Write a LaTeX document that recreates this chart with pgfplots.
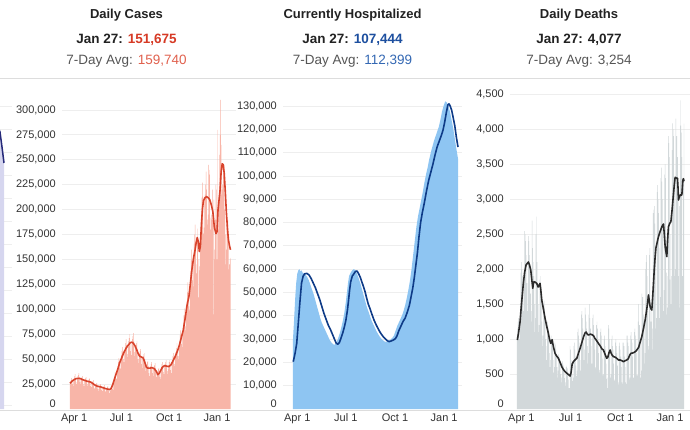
\documentclass[border=0pt]{standalone}
\usepackage{fontspec}
\setmainfont{Liberation Sans}
\usepackage{pgfplots}
\pgfplotsset{compat=1.18}
\definecolor{casebar}{HTML}{F8B5A8}
\definecolor{caseline}{HTML}{D8432C}
\definecolor{casenum}{HTML}{D63A25}
\definecolor{caseavg}{HTML}{E0604D}
\definecolor{hosparea}{HTML}{8EC5F2}
\definecolor{hospline}{HTML}{0E3B87}
\definecolor{hospnum}{HTML}{1D4F9F}
\definecolor{hospavg}{HTML}{3468B3}
\definecolor{deathbar}{HTML}{D2D8DA}
\definecolor{deathline}{HTML}{2B2B2B}
\definecolor{gridcol}{HTML}{EEEEEE}
\definecolor{tickcol}{HTML}{333333}
\definecolor{avgtext}{HTML}{555555}
\definecolor{titletext}{HTML}{222222}
\definecolor{lav}{HTML}{D6D6EF}
\definecolor{lavline}{HTML}{262A7A}
\definecolor{sepline}{HTML}{DDDDDD}
\pgfplotsset{
  panel/.style={
    scale only axis, height=317pt, ymin=0,
    axis line style={draw=none}, major tick length=0pt, tick style={draw=none},
    ymajorgrids, major grid style={gridcol, line width=0.8pt},
    xtick={0,91,183,275}, xticklabels={Apr 1,Jul 1,Oct 1,Jan 1},
    ticklabel style={font=\fontsize{11}{13}\selectfont, text=tickcol},
    yticklabel style={anchor=east, inner sep=0pt, xshift=-6pt},
    xticklabel style={anchor=north, inner sep=0pt, yshift=-4.5pt},
    /pgf/number format/assume math mode=true,
    extra y ticks={0}, extra y tick labels={0},
    extra y tick style={grid=none, yticklabel style={yshift=5pt}},
  }
}
\begin{document}
\begin{tikzpicture}
\path[use as bounding box] (0,0) rectangle (690pt,-430pt);

% partial panel at the left edge
\begin{axis}[panel, at={(-40pt,-409pt)}, anchor=south west, width=52pt,
  xmin=0, xmax=52, ymax=317, ytick={4,27,...,316}, yticklabels={},
  xtick=\empty, extra y ticks={}, extra y tick labels={}]
\addplot[fill=lav, draw=none] coordinates {(0,300) (30,292) (36,282) (40,272) (42,262) (44,248)} \closedcycle;
\addplot[lavline, line width=1.5pt] coordinates {(28,305) (34,292) (40,277) (42,262) (44,246)};
\end{axis}

% Daily cases (thousands)
\begin{axis}[panel, at={(62pt,-409pt)}, anchor=south west, width=174pt,
  xmin=-23.4, xmax=311.6, ymax=318,
  ytick={25,50,...,300},
  yticklabels={{25,000},{50,000},{75,000},{100,000},{125,000},{150,000},{175,000},{200,000},{225,000},{250,000},{275,000},{300,000}}]
\addplot[ybar, bar width=0.85, fill=casebar, draw=none] table[row sep=\\, x expr=\coordindex-8, y=v] {v\\
25\\ 27\\ 29\\ 31\\ 28\\ 25\\ 23\\
28\\ 31\\ 33\\ 35\\ 31\\ 27\\ 25\\
30\\ 33\\ 34\\ 36\\ 32\\ 27\\ 25\\
29\\ 31\\ 32\\ 33\\ 30\\ 25\\ 23\\
28\\ 30\\ 31\\ 32\\ 29\\ 25\\ 23\\
27\\ 29\\ 30\\ 31\\ 28\\ 23\\ 22\\
25\\ 27\\ 28\\ 29\\ 25\\ 21\\ 20\\
23\\ 25\\ 26\\ 26\\ 23\\ 20\\ 18\\
22\\ 23\\ 24\\ 25\\ 23\\ 19\\ 18\\
21\\ 22\\ 23\\ 24\\ 22\\ 18\\ 17\\
19\\ 21\\ 22\\ 23\\ 21\\ 18\\ 16\\
18\\ 20\\ 22\\ 24\\ 23\\ 20\\ 19\\
26\\ 30\\ 33\\ 37\\ 35\\ 31\\ 30\\
38\\ 43\\ 47\\ 51\\ 47\\ 41\\ 40\\
49\\ 54\\ 58\\ 62\\ 57\\ 50\\ 47\\
57\\ 62\\ 66\\ 70\\ 64\\ 55\\ 52\\
62\\ 68\\ 71\\ 75\\ 67\\ 58\\ 54\\
65\\ 70\\ 73\\ 76\\ 68\\ 57\\ 53\\
60\\ 64\\ 66\\ 68\\ 60\\ 50\\ 46\\
52\\ 56\\ 58\\ 60\\ 53\\ 45\\ 41\\
50\\ 53\\ 55\\ 56\\ 50\\ 42\\ 38\\
42\\ 45\\ 47\\ 48\\ 43\\ 36\\ 33\\
40\\ 43\\ 45\\ 47\\ 42\\ 36\\ 33\\
40\\ 43\\ 44\\ 46\\ 41\\ 35\\ 32\\
35\\ 38\\ 40\\ 41\\ 37\\ 32\\ 30\\
38\\ 42\\ 45\\ 47\\ 43\\ 37\\ 35\\
42\\ 45\\ 47\\ 49\\ 44\\ 38\\ 35\\
40\\ 44\\ 47\\ 49\\ 45\\ 39\\ 36\\
45\\ 49\\ 53\\ 56\\ 52\\ 45\\ 43\\
51\\ 57\\ 61\\ 66\\ 60\\ 53\\ 50\\
61\\ 68\\ 74\\ 79\\ 73\\ 65\\ 62\\
77\\ 86\\ 94\\ 101\\ 94\\ 83\\ 79\\
96\\ 108\\ 117\\ 127\\ 117\\ 103\\ 99\\
124\\ 138\\ 149\\ 160\\ 147\\ 129\\ 123\\
151\\ 166\\ 175\\ 185\\ 168\\ 145\\ 136\\
172\\ 181\\ 112\\ 150\\ 143\\ 139\\ 160\\
180\\ 196\\ 212\\ 227\\ 213\\ 176\\ 182\\
210\\ 215\\ 225\\ 238\\ 220\\ 190\\ 185\\
195\\ 245\\ 235\\ 240\\ 192\\ 180\\ 195\\
190\\ 220\\ 190\\ 95\\ 210\\ 150\\ 160\\
190\\ 225\\ 220\\ 150\\ 280\\ 200\\ 180\\
215\\ 255\\ 275\\ 310\\ 265\\ 215\\ 220\\
225\\ 240\\ 235\\ 245\\ 200\\ 175\\ 145\\
160\\ 185\\ 190\\ 190\\ 170\\ 140\\ 145\\
150\\ 151.675\\
};
\addplot[caseline, line width=1.6pt, line join=round] coordinates {
(-8,25.8) (-4,28) (0,29.5) (4,30.5) (8,30.8) (12,30.5) (16,29.5) (20,28.8) (24,28) (28,27.5)
(32,27) (36,25.5) (40,24) (44,23) (48,22.5) (52,22) (56,21.3) (60,20.5) (64,20) (68,19.5)
(71,20.5) (74,24) (77,29) (80,34) (84,40) (88,47) (92,52) (96,57) (100,61) (104,64)
(108,66.5) (111,67) (114,66) (117,63.5) (120,60) (123,56) (126,53) (130,52) (133,51) (136,47)
(139,42) (142,41) (146,41) (150,41.5) (154,40.5) (158,38) (161,34.5) (164,36) (167,39) (170,42)
(174,43.5) (178,43) (182,42.5) (186,44) (190,48) (194,52) (198,57) (202,63) (206,71) (210,79)
(214,92) (217,103) (219,108) (221,113) (224,127) (227,141) (230,152) (233,160) (235,167) (237,172)
(239,168) (241,158) (243,163) (245,185) (247,201) (249,209) (252,212) (255,213) (258,212) (261,210)
(264,205) (267,198) (270,182) (273,176) (275,178) (277,200) (279,210) (281,220) (283,238) (285,246)
(287,245) (289,236) (291,218) (293,198) (295,182) (297,170) (299,164) (301,159.74)};
\end{axis}

% Currently hospitalized (thousands)
\begin{axis}[panel, at={(283pt,-409pt)}, anchor=south west, width=179pt,
  xmin=-26.7, xmax=308.5, ymax=136,
  ytick={10,20,...,130},
  yticklabels={{10,000},{20,000},{30,000},{40,000},{50,000},{60,000},{70,000},{80,000},{90,000},{100,000},{110,000},{120,000},{130,000}}]
\addplot[fill=hosparea, draw=none] coordinates {
(-8,30) (-6,38) (-4,47) (-2,54) (0,58) (2,59.5) (4,60) (6,59) (8,59.5) (10,58.5) (13,58)
(16,57.5) (19,56.5) (22,55) (25,53) (28,51) (31,49) (34,46.5) (37,44) (40,41.5) (43,39)
(46,37) (49,35.5) (52,34) (55,32.5) (58,31) (61,29.5) (64,28.5) (67,27.8) (70,27.5) (73,28.5)
(76,30) (79,32) (82,34.5) (85,37.5) (88,41) (91,46) (93,50) (95,54) (97,57) (100,58.5)
(103,59.5) (106,60) (109,59.5) (112,58) (115,56) (118,54) (121,51.5) (124,49) (127,46.5) (130,44)
(133,42) (136,40) (139,38) (142,36.5) (145,35) (148,33.5) (151,32.3) (154,31.2) (157,30.3) (160,29.6)
(163,29) (166,28.8) (169,29) (172,29.5) (175,29.8) (178,30.5) (181,31.5) (184,33.5) (187,35.5) (190,37)
(193,38.5) (196,40) (199,42) (202,44.5) (205,47.5) (208,51) (211,55) (214,60) (217,66) (220,72)
(223,78) (226,82.5) (229,86) (232,89.5) (235,93) (238,97) (241,100.5) (244,103.5) (247,107) (250,110)
(253,112.5) (256,115) (259,117) (262,119) (265,121) (268,124) (271,127.5) (274,130) (277,132) (280,131.5)
(283,130) (286,127.5) (289,124) (292,120.5) (295,116) (298,111.5) (301,107.444)} \closedcycle;
\addplot[hospline, line width=1.6pt, line join=round] coordinates {
(-7.5,20.3) (-4,24) (-1,28.2) (2,37) (5,46) (8,54) (11,57) (14,58) (18,58.2) (22,57.5)
(26,56) (30,54) (34,52) (38,49.5) (42,47) (46,44) (50,41) (54,38.5) (58,36) (62,34.2)
(66,32) (70,29.8) (73,28.2) (76,27.8) (79,28.5) (82,30.5) (85,32.5) (88,35) (91,38) (94,42.5)
(96,46.5) (98,51) (100,54.5) (103,57) (106,58) (109,59) (112,59.2) (115,58) (118,56.5) (121,54.5)
(124,52.5) (127,50.3) (130,47.5) (133,45) (136,43.2) (140,40.5) (144,38) (148,36) (152,34.2) (156,32.6)
(160,31.3) (164,30.3) (168,29.4) (172,28.9) (176,29.2) (180,29.6) (184,30.2) (187,31.5) (190,33.5) (194,35.5)
(198,37.5) (202,39) (206,41.5) (210,44.5) (213,48) (216,51.5) (219,56) (222,61.5) (225,67) (228,74)
(231,80) (234,84) (238,88.5) (242,93.5) (246,98) (250,101.5) (254,105) (258,109) (262,112.5) (266,115)
(270,117.5) (273,119.7) (276,123) (279,127) (282,130.5) (284,130.9) (286,130.2) (289,128.3) (292,125) (295,121.5)
(298,116.5) (301,112.399)};
\end{axis}

% Daily deaths
\begin{axis}[panel, at={(510pt,-409pt)}, anchor=south west, width=180pt,
  xmin=-21, xmax=312.1, ymax=4529,
  ytick={500,1000,...,4500},
  yticklabels={500,{1,000},{1,500},{2,000},{2,500},{3,000},{3,500},{4,000},{4,500}}]
\addplot[ybar, bar width=0.85, fill=deathbar, draw=none] table[row sep=\\, x expr=\coordindex-8, y=v] {v\\
1000\\ 1150\\ 1250\\ 1300\\ 1200\\ 1000\\ 1350\\
1950\\ 2100\\ 2000\\ 1900\\ 1700\\ 1400\\ 1800\\
2540\\ 2500\\ 2400\\ 2200\\ 1800\\ 1400\\ 1800\\
2470\\ 2400\\ 2200\\ 2000\\ 1650\\ 1250\\ 1400\\
2690\\ 2300\\ 2100\\ 1900\\ 1500\\ 1100\\ 1300\\
2500\\ 2750\\ 2100\\ 1800\\ 1500\\ 1100\\ 1200\\
1850\\ 1900\\ 1750\\ 1600\\ 1250\\ 900\\ 1050\\
1500\\ 1550\\ 1450\\ 1300\\ 1000\\ 700\\ 900\\
1250\\ 1200\\ 1150\\ 1050\\ 800\\ 600\\ 700\\
1050\\ 1000\\ 950\\ 880\\ 700\\ 520\\ 600\\
950\\ 920\\ 860\\ 770\\ 600\\ 450\\ 550\\
780\\ 750\\ 720\\ 640\\ 500\\ 380\\ 450\\
680\\ 650\\ 620\\ 560\\ 440\\ 330\\ 380\\
600\\ 620\\ 580\\ 520\\ 420\\ 300\\ 300\\
900\\ 850\\ 700\\ 650\\ 500\\ 400\\ 450\\
900\\ 950\\ 850\\ 750\\ 620\\ 470\\ 550\\
1100\\ 1150\\ 1050\\ 950\\ 780\\ 550\\ 700\\
1350\\ 1400\\ 1300\\ 1150\\ 950\\ 700\\ 850\\
1450\\ 1350\\ 1250\\ 1150\\ 900\\ 650\\ 800\\
1350\\ 1500\\ 1300\\ 1150\\ 900\\ 650\\ 650\\
1300\\ 1350\\ 1200\\ 1050\\ 850\\ 580\\ 600\\
1200\\ 1250\\ 1150\\ 1000\\ 800\\ 520\\ 560\\
1100\\ 1150\\ 1050\\ 900\\ 720\\ 480\\ 500\\
1000\\ 1050\\ 900\\ 850\\ 650\\ 430\\ 300\\
450\\ 1200\\ 1150\\ 1000\\ 800\\ 450\\ 500\\
1000\\ 1050\\ 900\\ 850\\ 650\\ 420\\ 400\\
950\\ 1000\\ 900\\ 800\\ 620\\ 380\\ 350\\
900\\ 950\\ 850\\ 750\\ 600\\ 380\\ 360\\
950\\ 950\\ 900\\ 750\\ 600\\ 380\\ 360\\
1050\\ 1050\\ 950\\ 900\\ 700\\ 420\\ 450\\
1050\\ 1100\\ 1000\\ 950\\ 750\\ 450\\ 450\\
1100\\ 1150\\ 1050\\ 1000\\ 800\\ 480\\ 480\\
1250\\ 1500\\ 1200\\ 1200\\ 950\\ 450\\ 550\\
1650\\ 1600\\ 1600\\ 1350\\ 1250\\ 650\\ 800\\
2000\\ 2100\\ 2200\\ 1900\\ 1400\\ 850\\ 900\\
2200\\ 2300\\ 1250\\ 1400\\ 1250\\ 850\\ 1150\\
2800\\ 2850\\ 2900\\ 2650\\ 2300\\ 1150\\ 1300\\
3100\\ 3200\\ 3000\\ 2800\\ 2300\\ 1300\\ 1600\\
3300\\ 3450\\ 3250\\ 3000\\ 2500\\ 1400\\ 1700\\
3350\\ 3500\\ 3300\\ 1350\\ 1950\\ 1450\\ 1900\\
3900\\ 3800\\ 3600\\ 1850\\ 2500\\ 1500\\ 1900\\
3700\\ 4080\\ 4000\\ 3900\\ 3300\\ 1900\\ 2000\\
4150\\ 3900\\ 3900\\ 3600\\ 3100\\ 1900\\ 1450\\
2900\\ 4410\\ 4050\\ 3950\\ 3600\\ 1900\\ 1900\\
3300\\ 4077\\
};
\addplot[deathline, line width=1.6pt, line join=round] coordinates {
(-7.4,986) (-5,1100) (-2.4,1247) (0,1480) (2,1650) (3.7,1795) (6,1950) (8.7,2057) (11,2080) (13,2100)
(15,2060) (17.4,1986) (19,1870) (21.1,1724) (22.5,1800) (23.5,1819) (26,1810) (28.5,1795) (31,1743) (34.6,1795)
(36,1700) (37.8,1557) (41,1420) (43.9,1295) (47,1180) (50,1081) (52,1000) (54.4,938) (57,990) (59,900)
(62.4,795) (65,760) (68.5,724) (71,680) (74.8,605) (78,560) (82.8,519) (86,500) (90.2,471) (92,520)
(94,640) (96.3,676) (99,700) (102.6,724) (105,780) (108.7,867) (112,950) (115,1030) (118,1090) (120,1100)
(122,1070) (124.1,1057) (128,1070) (131,1060) (133.4,1048) (136,1010) (139,980) (142.6,938) (146,900) (149,860)
(151.9,843) (154,800) (156,760) (158.1,724) (160,740) (162,800) (164.3,843) (166,800) (168,770) (170.4,748)
(174,740) (177,720) (179.6,700) (183,700) (186,690) (188.9,676) (192,690) (195.1,700) (198,720) (200,760)
(202.5,795) (206,800) (209,810) (211,820) (213.7,843) (217,880) (220,960) (222.9,1033) (226,1150) (229.1,1271)
(232,1420) (234,1540) (235.2,1629) (236.5,1560) (238.3,1462) (240,1430) (241.4,1414) (243,1600) (244.5,1795) (246,2000)
(247.6,2176) (249,2300) (251,2370) (253.7,2462) (257,2540) (260,2605) (263,2643) (264.5,2500) (266.1,2319) (267.5,2250)
(269.2,2176) (270.5,2400) (272.2,2605) (274.5,2650) (276.7,2676) (279,2850) (281.6,3081) (283,3200) (284.6,3310) (287,3300)
(288.9,3296) (290,3150) (290.7,2986) (292,3020) (293.9,3057) (297,3057) (298.9,3271) (300,3290) (301,3254)};
\end{axis}

% separators
\draw[sepline, line width=1.3pt] (0,-78.3pt) -- (690pt,-78.3pt);
\draw[sepline, line width=1pt] (0,-410pt) -- (690pt,-410pt);

% headers
\begin{scope}[every node/.style={inner sep=0pt}]
\node[font=\bfseries\fontsize{13}{15}\selectfont, text=titletext] at (126.5pt,-15pt) {Daily Cases};
\node[font=\bfseries\fontsize{13.5}{16}\selectfont, text=titletext] at (126.5pt,-39.5pt) {Jan 27: \textcolor{casenum}{151,675}};
\node[font=\fontsize{13.5}{16}\selectfont, text=avgtext] at (126.5pt,-61.5pt) {7-Day Avg: \textcolor{caseavg}{159,740}};
\node[font=\bfseries\fontsize{13}{15}\selectfont, text=titletext] at (352.5pt,-15pt) {Currently Hospitalized};
\node[font=\bfseries\fontsize{13.5}{16}\selectfont, text=titletext] at (352.5pt,-39.5pt) {Jan 27: \textcolor{hospnum}{107,444}};
\node[font=\fontsize{13.5}{16}\selectfont, text=avgtext] at (352.5pt,-61.5pt) {7-Day Avg: \textcolor{hospavg}{112,399}};
\node[font=\bfseries\fontsize{13}{15}\selectfont, text=titletext] at (579pt,-15pt) {Daily Deaths};
\node[font=\bfseries\fontsize{13.5}{16}\selectfont, text=titletext] at (579pt,-39.5pt) {Jan 27: 4,077};
\node[font=\fontsize{13.5}{16}\selectfont, text=avgtext] at (579pt,-61.5pt) {7-Day Avg: 3,254};
\end{scope}
\end{tikzpicture}
\end{document}
